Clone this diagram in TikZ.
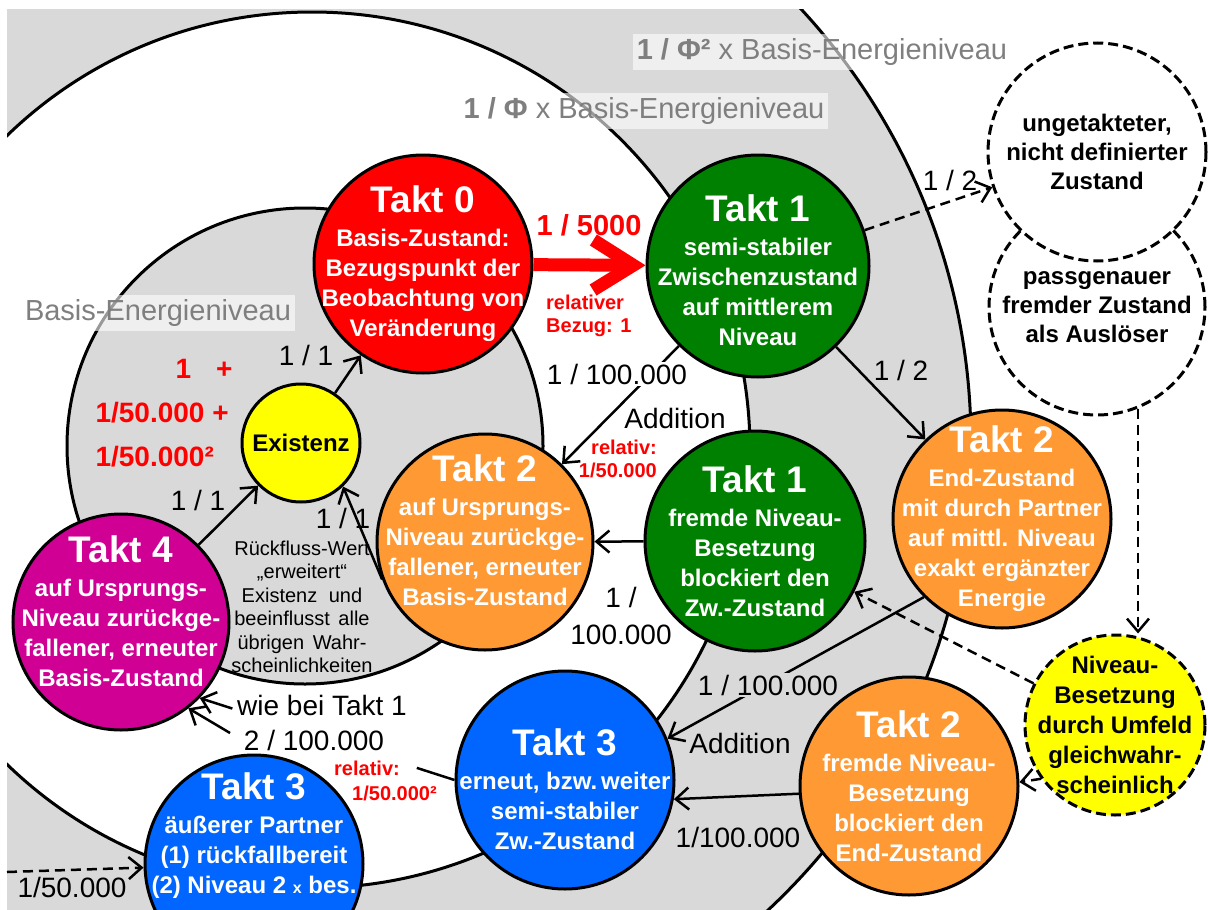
\documentclass[tikz,border=0pt]{standalone}
\usepackage{fontspec}
\setmainfont{Liberation Sans}
\usetikzlibrary{positioning,arrows.meta}

\definecolor{ringgray}{RGB}{217,217,217}
\definecolor{lvlgray}{RGB}{127,127,127}
\definecolor{taktred}{RGB}{255,0,0}
\definecolor{taktgreen}{RGB}{0,128,0}
\definecolor{taktorange}{RGB}{255,153,51}
\definecolor{taktblue}{RGB}{0,102,255}
\definecolor{taktmagenta}{RGB}{208,0,148}
\definecolor{taktyellow}{RGB}{255,255,0}

\newcommand{\taktfont}{\fontsize{37}{40}\selectfont\bfseries}
\newcommand{\circfont}{\fontsize{24}{30}\selectfont\bfseries}
\newcommand{\lblfont}{\fontsize{28}{34}\selectfont}
\newcommand{\redfont}{\fontsize{20}{23}\selectfont\bfseries}

\begin{document}
\begin{tikzpicture}[x=1pt, y=-1pt,
    disc/.style={circle, draw=black, line width=3pt, minimum size=218pt, inner sep=0pt},
    dashdisc/.style={disc, dash pattern=on 10pt off 5pt},
    disctext/.style={align=center, text=white, font=\circfont},
    dtext/.style={align=center, font=\fontsize{24}{29}\selectfont\bfseries},
    ringline/.style={line width=3pt},
    conn/.style={line width=2.5pt, -{Straight Barb[length=13pt,width=22pt]}},
    dashconn/.style={conn, dash pattern=on 10pt off 6pt},
    lbl/.style={font=\lblfont, inner sep=2pt},
    lvl/.style={font=\fontsize{29}{32}\selectfont, text=lvlgray, inner sep=4pt,
                fill=white, fill opacity=0.6, text opacity=1},
    redlbl/.style={font=\redfont, text=taktred, inner sep=1pt}]

\useasboundingbox (0,0) rectangle (1208,910);
\clip (0,0) rectangle (1208,910);

% energy levels
\begin{scope}
  \clip (7,9) rectangle (1208,910);
  \fill[ringgray] (332,443) circle [radius=639];
  \draw[ringline] (332,443) circle [radius=639];
  \fill[white] (312,450) circle [radius=438];
  \draw[ringline] (312,450) circle [radius=438];
  \fill[ringgray] (305,446) circle [radius=238];
  \draw[ringline] (305,446) circle [radius=238];
\end{scope}

\node[lvl] (lvtwo) at (822,52) {\textbf{1 / Φ²} x Basis-Energieniveau};
\node[lvl] (lvone) at (644,111) {\textbf{1 / Φ} x Basis-Energieniveau};
\node[lvl] (lvzero) at (158,313) {Basis-Energieniveau};

% states
\node[disc, fill=taktred] (t0) at (423,264) {};
\node[disc, fill=taktgreen, minimum size=222pt] (t1a) at (758,266) {};
\node[disc, fill=taktgreen, minimum size=220pt] (t1b) at (755,541) {};
\node[disc, fill=taktorange, minimum size=216pt] (t2a) at (485,542) {};
\node[disc, fill=taktorange] (t2b) at (1002,519) {};
\node[disc, fill=taktorange] (t2c) at (909,786) {};
\node[disc, fill=taktblue] (t3a) at (565,780) {};
\node[disc, fill=taktblue] (t3b) at (254,864) {};
\node[disc, fill=taktmagenta, minimum size=216pt] (t4) at (121,622) {};
\node[disc, fill=taktyellow, minimum size=118pt] (ex) at (301,443) {};
\node[dashdisc, fill=white, minimum size=216pt] (d2) at (1097,307) {};
\node[dashdisc, fill=white] (d1) at (1097,152) {};
\node[dashdisc, fill=taktyellow, minimum size=180pt] (yl) at (1115,725) {};

\node[disctext] (t0txt) at (t0) {{\taktfont Takt 0}\\[4pt]Basis-Zustand:\\Bezugspunkt der\\Beobachtung von\\Veränderung};
\node[disctext] (t1atxt) at ([yshift=-4pt]t1a.center) {{\taktfont Takt 1}\\[4pt]semi-stabiler\\Zwischenzustand\\auf mittlerem\\Niveau};
\node[disctext] (t1btxt) at (t1b) {{\taktfont Takt 1}\\[4pt]fremde Niveau-\\Besetzung\\blockiert den\\Zw.-Zustand};
\node[disctext] (t2atxt) at ([yshift=12pt]t2a.center) {{\taktfont Takt 2}\\[4pt]auf Ursprungs-\\Niveau zurückge-\\fallener, erneuter\\Basis-Zustand};
\node[disctext] (t2btxt) at (t2b) {{\taktfont Takt 2}\\[4pt]End-Zustand\\mit durch Partner\\auf mittl. Niveau\\exakt ergänzter\\Energie};
\node[disctext] (t2ctxt) at (t2c) {{\taktfont Takt 2}\\[4pt]fremde Niveau-\\Besetzung\\blockiert den\\End-Zustand};
\node[disctext] (t3atxt) at ([yshift=-9pt]t3a.center) {{\taktfont Takt 3}\\[4pt]erneut, bzw.\,weiter\\semi-stabiler\\Zw.-Zustand};
\node[disctext] (t3btxt) at (254,836) {{\taktfont Takt 3}\\[4pt]äußerer Partner\\(1) rückfallbereit\\(2) Niveau 2 {\fontsize{16}{16}\selectfont x} bes.};
\node[disctext] (t4txt) at ([yshift=11pt]t4.center) {{\taktfont Takt 4}\\[4pt]auf Ursprungs-\\Niveau zurückge-\\fallener, erneuter\\Basis-Zustand};
\node[dtext] (extxt) at (ex) {Existenz};
\node[dtext] (d1txt) at (d1) {ungetakteter,\\nicht definierter\\Zustand};
\node[dtext] (d2txt) at (d2) {passgenauer\\fremder Zustand\\als Auslöser};
\node[dtext, font=\fontsize{24}{30}\selectfont\bfseries] (yltxt) at (yl) {Niveau-\\Besetzung\\durch Umfeld\\gleichwahr-\\scheinlich};

% transitions
\draw[line width=13pt, taktred, -{Straight Barb[length=40pt,width=50pt]}] (t0) -- (t1a);
\draw[conn] (t1a) -- (t2b);
\draw[dashconn] (t1a) -- (d1);
\draw[conn] (t1a) -- (t2a);
\draw[conn] (ex) -- (t0);
\draw[conn] (t4) -- (ex);
\draw[conn] (t2a.200) -- (ex.-46);
\draw[conn] (t1b) -- (t2a);
\draw[conn] (t2b.-135) -- (t3a.22);
\draw[conn] (t2c.184) -- (t3a.-10);
% these two run behind the text labels
\path (t3a.west) -- (t4.-44) coordinate[pos=0.148] (backa) coordinate[pos=0.872] (backb);
\draw[line width=2.5pt] (t3a.west) -- (backa);
\draw[conn] (backb) -- (t4.-44);
\path (t3b.84) -- (t4.-52) coordinate[pos=0.46] (backc);
\draw[conn] (backc) -- (t4.-52);
\draw[dashconn] (yl) -- (t1b);
\draw[dashconn] (yl.216) -- (t2c.2);
\draw[dashconn] (d2.-68) -- (d2.-68 |- yl.north);
\coordinate (inflow) at (7,872);
\draw[dashconn] (inflow) -- (t3b);

% probabilities
\node[font=\fontsize{29}{32}\selectfont\bfseries, text=taktred] (pfive) at (589,225) {1 / 5000};
\node[redlbl, align=left, anchor=west] (pbez) at (545,316) {relativer\\Bezug: 1};
\node[lbl] (phalfa) at (950,180) {1 / 2};
\node[lbl] (phalfb) at (901,370) {1 / 2};
\node[lbl, fill=white] (pback) at (617,374) {1 / 100.000};
\node[lbl] (padda) at (675,418) {Addition};
\node[redlbl, align=right, anchor=east] (prela) at (658,459) {relativ:\\1/50.000};
\node[lbl] (poneex) at (306,355) {1 / 1};
\node[lbl] (ponefour) at (198,500) {1 / 1};
\node[lbl] (ponetwo) at (343,518) {1 / 1};
\node[lbl, align=center, font=\fontsize{28}{37}\selectfont] (pblock) at (621,616) {1 /\\100.000};
\node[lbl, fill=ringgray] (pend) at (768,685) {1 / 100.000};
\node[lbl] (paddb) at (740,743) {Addition};
\node[lbl] (pfremd) at (738,837) {1/100.000};
\node[lbl] (pwie) at (322,705) {wie bei Takt 1};
\node[lbl] (ptwo) at (314,740) {2 / 100.000};
\node[redlbl, align=left, anchor=west, font=\fontsize{20}{25}\selectfont\bfseries] (prelb) at (333,781) {relativ:\\\hspace*{18pt}1/50.000²};
\node[lbl] (pin) at (72,887) {1/50.000};
\node[font=\fontsize{28}{44}\selectfont\bfseries, text=taktred, align=left, anchor=west] (psum) at (92,413) {\hspace*{80pt}1\hspace{25pt}+\\1/50.000 +\\1/50.000²};
\node[font=\fontsize{20}{23.5}\selectfont, align=center] (pflow) at (302,607) {Rückfluss-Wert\\„erweitert“\\Existenz\hspace{6pt} und\\beeinflusst\hspace{3pt} alle\\übrigen\hspace{3pt} Wahr-\\scheinlichkeiten};

\end{tikzpicture}
\end{document}
